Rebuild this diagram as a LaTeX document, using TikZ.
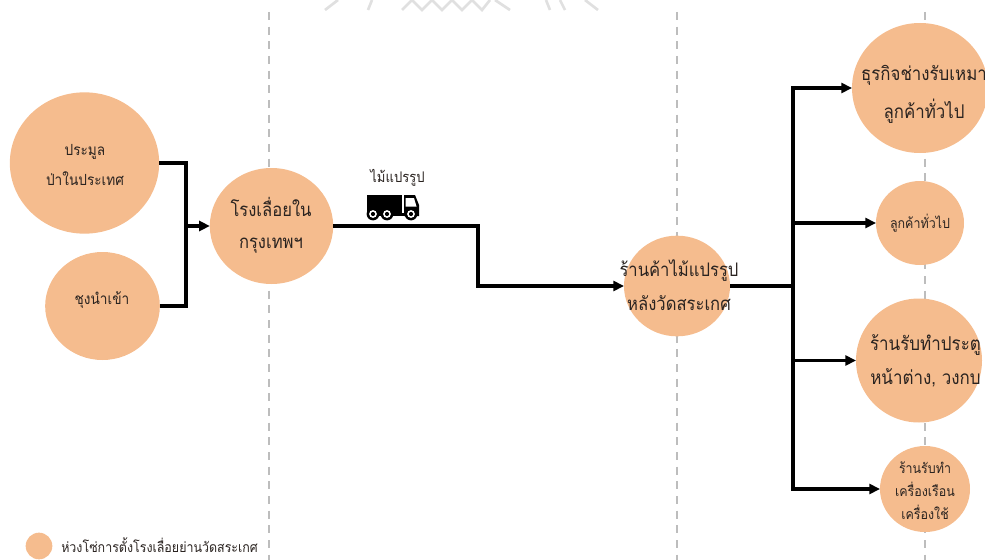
\documentclass[tikz,border=0pt]{standalone}
\usepackage{fontspec}
\setmainfont[Script=Thai,FakeStretch=0.89]{Loma}
\usetikzlibrary{shapes.geometric,arrows.meta}
\definecolor{peach}{HTML}{F5BC8E}
\definecolor{dashgray}{HTML}{BDBDBD}
\definecolor{inktxt}{HTML}{2A2320}
\tikzset{
  bub/.style={ellipse,fill=peach,draw=none,inner sep=0pt,outer sep=0pt},
  lab/.style={align=center,inner sep=0pt,text=inktxt},
  flow/.style={line width=2.6pt,black,line join=miter},
  flowa/.style={flow,-{Triangle[length=8pt,width=7.5pt]}},
  sep/.style={dashgray,line width=0.9pt,dash pattern=on 6pt off 5pt},
  wm/.style={black!12,line width=2pt}
}
\newcommand{\ls}[1]{\fontsize{#1}{#1}\selectfont}
\begin{document}
\begin{tikzpicture}[x=0.75pt,y=-0.75pt]
\useasboundingbox (0,0) rectangle (985,560);
% faint remains of a watermark at the top edge
\draw[wm] (325,10) -- (338,0) (368,10) -- (372,0) (402,10) -- (412,0) -- (422,10) -- (432,0) -- (442,10) -- (452,0) -- (462,10) -- (472,0) -- (482,10) -- (490,0) (495,0) -- (510,10) (550,10) -- (546,0) (565,10) -- (560,0) (598,10) -- (585,0);
% phase separators
\coordinate (s1t) at (269,12); \coordinate (s1b) at (269,560);
\coordinate (s2t) at (677,12); \coordinate (s2b) at (677,560);
\coordinate (s3t) at (925,12); \coordinate (s3b) at (925,560);
\draw[sep] (s1t) -- (s1b);
\draw[sep] (s2t) -- (s2b);
\draw[sep] (s3t) -- (s3b);
% nodes
\node[bub,minimum width=112pt,minimum height=106pt] (forest) at (84.5,163) {};
\node[bub,minimum width=86pt,minimum height=81pt] (imp) at (102.5,306) {};
\node[bub,minimum width=92.5pt,minimum height=87pt] (mill) at (271.5,226) {};
\node[bub,minimum width=79.5pt,minimum height=75.5pt] (shop) at (677,286) {};
\node[bub,minimum width=102pt,minimum height=97.5pt] (contr) at (920,88) {};
\node[bub,minimum width=66pt,minimum height=63pt] (cust) at (920,223) {};
\node[bub,minimum width=94.5pt,minimum height=93pt] (door) at (919,360.5) {};
\node[bub,minimum width=67.5pt,minimum height=64.5pt] (furn) at (925,489) {};
\node[bub,minimum width=20pt,minimum height=20pt] (legend) at (39,546) {};
% texts
\node[lab,font=\ls{11.5pt}] (forestt) at (85,165) {ประมูล\\[8.5pt]ป่าในประเทศ};
\node[lab,font=\ls{11.5pt}] (impt) at (102,300) {ชุงนำเข้า};
\node[lab,font=\ls{14pt}] (millt) at (271,225) {โรงเลื่อยใน\\[10pt]กรุงเทพฯ};
\node[lab,font=\ls{14pt}] (shopt) at (679,285) {ร้านค้าไม้แปรรูป\\[9.5pt]หลังวัดสระเกศ};
\node[lab,font=\ls{14.2pt}] (contrt) at (924,94) {ธุรกิจช่างรับเหมา\\[9pt]ลูกค้าทั่วไป};
\node[lab,font=\ls{10.5pt}] (custt) at (920,223) {ลูกค้าทั่วไป};
\node[lab,font=\ls{14.3pt}] (doort) at (925.5,361) {ร้านรับทำประตู\\[9pt]หน้าต่าง, วงกบ};
\node[lab,font=\ls{10.5pt}] (furnt) at (925,491) {ร้านรับทำ\\[5.5pt]เครื่องเรือน\\[5.5pt]เครื่องใช้};
\node[lab,anchor=west,font=\ls{10.5pt}] (legendt) at (61,545) {ห่วงโซ่การตั้งโรงเลื่อยย่านวัดสระเกศ};
\node[lab,font=\ls{11pt}] (trucklab) at (397.5,178) {ไม้แปรรูป};
% connectors
\coordinate (j1) at (186,226);
\coordinate (j2) at (793,286);
\coordinate (m1) at (478,226);
\coordinate (m2) at (478,286);
\draw[flow] (forest.east |- 0,163) -- (j1 |- 0,163) -- (j1);
\draw[flow] (imp.east |- 0,306) -- (j1 |- 0,306) -- (j1);
\draw[flowa] (j1) -- (mill.west);
\draw[flowa] (mill.east) -- (m1) -- (m2) -- (shop.west);
\draw[flow] (shop.east) -- (j2);
\draw[flowa] (j2) -- (j2 |- contr.west) -- (contr.west);
\draw[flowa] (j2) -- (j2 |- cust.west) -- (cust.west);
\draw[flowa] (j2) -- (j2 |- door.west) -- (door.west);
\draw[flowa] (j2) -- (j2 |- furn.west) -- (furn.west);
% truck pictogram
\fill[black] (367,195) rectangle (402,213);
\fill[black] (404,195) -- (415,195) -- (419,205) -- (419,216) -- (404,216) -- cycle;
\fill[black] (367,213) rectangle (419,216);
\fill[white] (405.5,198) -- (414,198) -- (416.5,206.5) -- (405.5,206.5) -- cycle;
\foreach \tx in {373,387,411}{
  \fill[black] (\tx,214) circle (6.4);
  \fill[white] (\tx,214) circle (3.9);
  \fill[black] (\tx,214) circle (2.1);
}
\end{tikzpicture}
\end{document}
